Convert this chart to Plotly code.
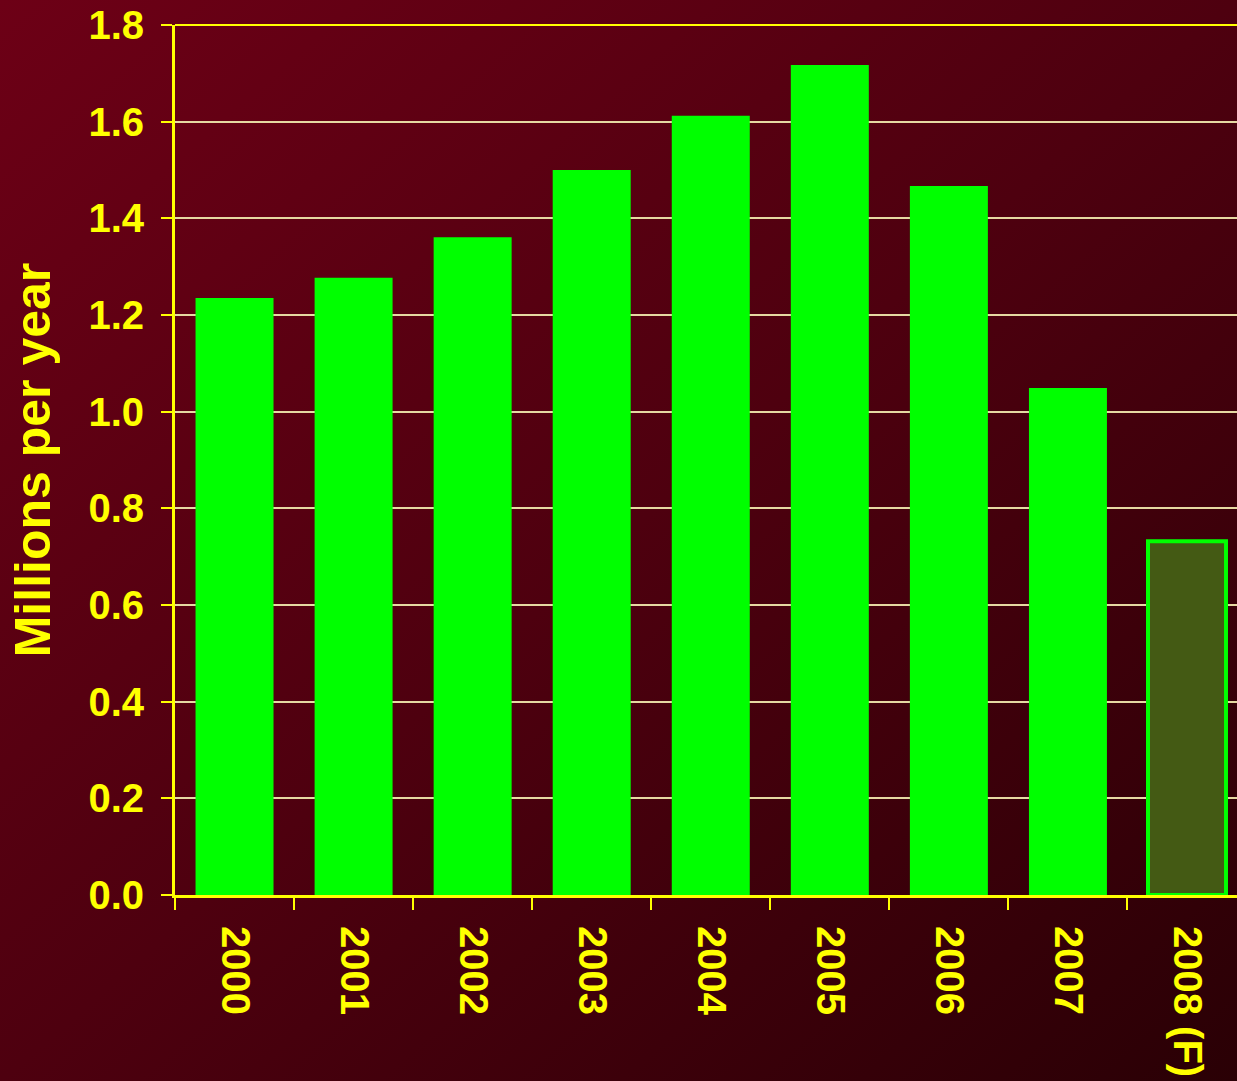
import base64
import plotly.graph_objects as go

# Annual figures, millions per year (2008 is a forecast)
years = ["2000", "2001", "2002", "2003", "2004", "2005", "2006", "2007", "2008 (F)"]
values = [1.235, 1.277, 1.361, 1.500, 1.612, 1.717, 1.467, 1.049, 0.732]
y_ticks = [0.0, 0.2, 0.4, 0.6, 0.8, 1.0, 1.2, 1.4, 1.6, 1.8]

W, H = 1237, 1081
M_L, M_R, M_T, M_B = 175, 0, 25, 186
YELLOW = "#ffff00"
GREEN = "#00ff00"
FORECAST_FILL = "#445a14"
GRID = "#e6d9a2"
FONT = "Liberation Sans, Arial, sans-serif"

# Diagonal maroon gradient used as the page background
svg = (
    f'<svg xmlns="http://www.w3.org/2000/svg" width="{W}" height="{H}" '
    f'viewBox="0 0 {W} {H}" preserveAspectRatio="none">'
    '<defs><linearGradient id="g" x1="0" y1="0" x2="1" y2="1">'
    '<stop offset="0" stop-color="#6d0016"/>'
    '<stop offset="0.5" stop-color="#4e000f"/>'
    '<stop offset="1" stop-color="#2a0005"/>'
    '</linearGradient></defs>'
    f'<rect width="{W}" height="{H}" fill="url(#g)"/></svg>'
)
bg_src = "data:image/svg+xml;base64," + base64.b64encode(svg.encode()).decode()

# Paper-relative placement so the gradient covers the whole page, margins included
plot_w = W - M_L - M_R
plot_h = H - M_T - M_B
bg_image = dict(
    source=bg_src, xref="paper", yref="paper",
    x=-M_L / plot_w, y=1 + M_T / plot_h,
    sizex=W / plot_w, sizey=H / plot_h,
    sizing="stretch", layer="below", xanchor="left", yanchor="top",
)

n_actual = len(years) - 1
fig = go.Figure()
fig.add_trace(go.Bar(
    x=years,
    y=values,
    marker=dict(
        color=[GREEN] * n_actual + [FORECAST_FILL],
        line=dict(color=GREEN, width=[0] * n_actual + [4]),
    ),
    hoverinfo="x+y",
))

# Yellow frame line along the top of the plot area
fig.add_shape(type="line", xref="paper", yref="paper", x0=0, x1=1, y0=1, y1=1,
              line=dict(color=YELLOW, width=2), layer="above")

fig.update_layout(
    width=W, height=H,
    margin=dict(l=M_L, r=M_R, t=M_T, b=M_B),
    paper_bgcolor="#4e000f",
    plot_bgcolor="rgba(0,0,0,0)",
    bargap=0.345,
    showlegend=False,
    font=dict(family=FONT, color=YELLOW, weight="bold"),
    images=[bg_image],
    xaxis=dict(
        range=[-0.5, 8.42],
        tickangle=90,
        tickfont=dict(size=40, family=FONT, color=YELLOW, weight="bold"),
        ticks="outside", ticklen=12, tickwidth=2, tickcolor=YELLOW,
        tickson="boundaries",
        ticklabelstandoff=20,
        showline=True, linecolor=YELLOW, linewidth=3,
        showgrid=False, zeroline=False,
        fixedrange=True,
    ),
    yaxis=dict(
        range=[0, 1.8],
        tickvals=y_ticks,
        ticktext=[f"{v:.1f}" for v in y_ticks],
        tickfont=dict(size=40, family=FONT, color=YELLOW, weight="bold"),
        ticks="outside", ticklen=11, tickwidth=2, tickcolor=YELLOW,
        ticklabelstandoff=9,
        showline=True, linecolor=YELLOW, linewidth=3,
        showgrid=True, gridcolor=GRID, gridwidth=2,
        zeroline=False,
        title=dict(text="Millions per year", standoff=22,
                   font=dict(size=50, family=FONT, color=YELLOW, weight="bold")),
        fixedrange=True,
    ),
)

fig.write_html("out.html", config={"displayModeBar": False})
